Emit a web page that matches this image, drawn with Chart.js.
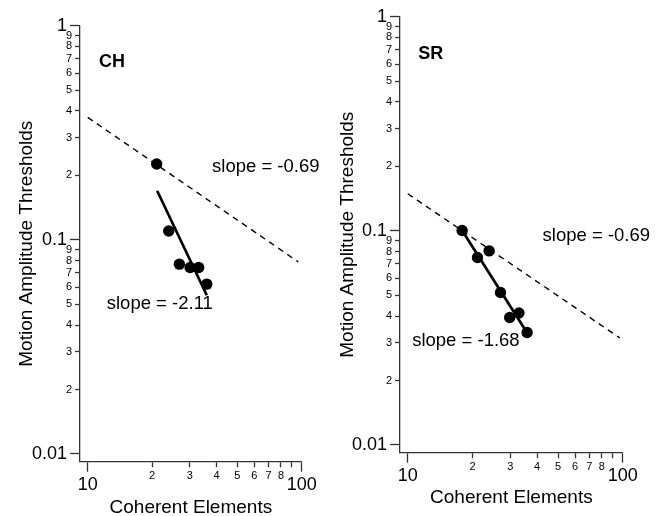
<!DOCTYPE html>
<html>
<head>
<meta charset="utf-8">
<script src="https://cdn.jsdelivr.net/npm/chart.js@4"></script>
<style>
  html, body { margin: 0; padding: 0; background: #fff; }
  #wrap { position: relative; width: 663px; height: 516px; }
  canvas { position: absolute; top: 0; }
  #ch { left: 0; }
  #sr { left: 330px; }
</style>
</head>
<body>
<div id="wrap">
  <canvas id="ch" width="330" height="516"></canvas>
  <canvas id="sr" width="333" height="516"></canvas>
</div>
<script>
  // tick positions and labels (log axes)
  const xTickValues = [10, 20, 30, 40, 50, 60, 70, 80, 90, 100];
  const xTickLabels = ['10', '2', '3', '4', '5', '6', '7', '8', '', '100'];
  const yTickValues = [0.01, 0.02, 0.03, 0.04, 0.05, 0.06, 0.07, 0.08, 0.09,
                       0.1, 0.2, 0.3, 0.4, 0.5, 0.6, 0.7, 0.8, 0.9, 1];
  const yTickLabels = ['0.01', '2', '3', '4', '5', '6', '7', '8', '9',
                       '0.1', '2', '3', '4', '5', '6', '7', '8', '9', '1'];

  // CH observer
  const chCoherent = [21.0, 23.9, 26.8, 30.1, 33.0, 36.0];
  const chThreshold = [0.226, 0.110, 0.077, 0.0743, 0.0743, 0.0621];
  const chFitX = [21.1, 36.0];
  const chFitY = [0.1695, 0.0551];
  const chRefX = [10, 96.4];
  const chRefY = [0.373, 0.0789];

  // SR observer
  const srCoherent = [17.9, 21.1, 23.9, 27.0, 29.8, 32.9, 35.9];
  const srThreshold = [0.1003, 0.0751, 0.0806, 0.0515, 0.0394, 0.0413, 0.0335];
  const srFitX = [17.9, 35.6];
  const srFitY = [0.1003, 0.0339];
  const srRefX = [10, 97];
  const srRefY = [0.149, 0.0316];

  const FONT = '"Liberation Sans", Arial, Helvetica, sans-serif';
  const AXIS = '#333';

  const isMajor = v => Math.abs(Math.log10(v) - Math.round(Math.log10(v))) < 1e-9;
  const toPoints = (xs, ys) => xs.map((x, i) => ({x: x, y: ys[i]}));

  // text notes placed in data coordinates
  const notesPlugin = {
    id: 'notes',
    afterDatasetsDraw(chart, args, opts) {
      const ctx = chart.ctx;
      const xs = chart.scales.x, ys = chart.scales.y;
      ctx.save();
      ctx.fillStyle = '#000';
      ctx.textAlign = 'left';
      ctx.textBaseline = 'middle';
      opts.items.forEach(n => {
        ctx.font = (n.bold ? 'bold ' : '') + n.size + 'px ' + FONT;
        ctx.fillText(n.text, xs.getPixelForValue(n.x), ys.getPixelForValue(n.y));
      });
      ctx.restore();
    }
  };

  function makePanel(id, p) {
    return new Chart(document.getElementById(id), {
      type: 'scatter',
      data: {
        datasets: [
          {
            label: 'thresholds',
            data: toPoints(p.xs, p.ys),
            pointRadius: 5.7,
            pointBackgroundColor: '#000',
            pointBorderWidth: 0,
            showLine: false
          },
          {
            label: 'fit',
            data: toPoints(p.fitX, p.fitY),
            showLine: true,
            borderColor: '#000',
            borderWidth: 2.7,
            pointRadius: 0
          },
          {
            label: 'reference',
            data: toPoints(p.refX, p.refY),
            showLine: true,
            borderColor: '#000',
            borderWidth: 1.4,
            borderDash: [6, 5],
            pointRadius: 0
          }
        ]
      },
      options: {
        responsive: false,
        animation: false,
        events: [],
        layout: { padding: p.pad },
        plugins: {
          legend: { display: false },
          tooltip: { enabled: false },
          notes: { items: p.notes }
        },
        scales: {
          x: {
            type: 'logarithmic',
            min: 9.2,
            max: 100,
            bounds: 'data',
            afterBuildTicks: s => { s.ticks = xTickValues.map(v => ({value: v, major: isMajor(v)})); },
            afterFit: s => { s.height = p.xHeight; },
            border: { display: true, color: AXIS, width: 1.3 },
            grid: {
              drawOnChartArea: false,
              drawTicks: true,
              tickLength: 10,
              tickWidth: 1.3,
              tickColor: AXIS,
              tickBorderDash: c => isMajor(c.tick.value) ? [] : [5, 5],
              tickBorderDashOffset: 0
            },
            ticks: {
              autoSkip: false,
              maxRotation: 0,
              minRotation: 0,
              padding: -2,
              color: '#000',
              font: c => isMajor(c.tick.value)
                ? {family: FONT, size: 18, lineHeight: '10.5px'}
                : {family: FONT, size: 11},
              callback: (v, i) => isMajor(xTickValues[i]) ? ['', xTickLabels[i]] : xTickLabels[i]
            },
            title: {
              display: true,
              text: 'Coherent Elements',
              color: '#000',
              padding: 0,
              font: {family: FONT, size: 19, lineHeight: 0.8}
            }
          },
          y: {
            type: 'logarithmic',
            min: 0.0092,
            max: 1,
            bounds: 'data',
            afterBuildTicks: s => { s.ticks = yTickValues.map(v => ({value: v, major: isMajor(v)})); },
            afterFit: s => { s.width = p.yWidth; },
            border: { display: true, color: AXIS, width: 1.3 },
            grid: {
              drawOnChartArea: false,
              drawTicks: true,
              tickLength: 10,
              tickWidth: 1.3,
              tickColor: AXIS,
              tickBorderDash: c => isMajor(c.tick.value) ? [] : [5, 5],
              tickBorderDashOffset: c => isMajor(c.tick.value) ? 0 : 5
            },
            ticks: {
              autoSkip: false,
              padding: -2,
              color: '#000',
              font: c => isMajor(c.tick.value)
                ? {family: FONT, size: 18}
                : {family: FONT, size: 11},
              callback: (v, i) => isMajor(yTickValues[i]) ? yTickLabels[i] + ' ' : yTickLabels[i]
            },
            title: {
              display: true,
              text: 'Motion Amplitude Thresholds',
              color: '#000',
              padding: 0,
              font: {family: FONT, size: 19, lineHeight: 0.8}
            }
          }
        }
      },
      plugins: [notesPlugin]
    });
  }

  makePanel('ch', {
    xs: chCoherent, ys: chThreshold,
    fitX: chFitX, fitY: chFitY,
    refX: chRefX, refY: chRefY,
    pad: {left: 19.4, top: 25.7, right: 28.3, bottom: 0.2},
    yWidth: 60.6,
    xHeight: 54.1,
    notes: [
      {text: 'CH', x: 11.3, y: 0.673, size: 18, bold: true},
      {text: 'slope = -0.69', x: 38.1, y: 0.219, size: 18.5},
      {text: 'slope = -2.11', x: 12.27, y: 0.0502, size: 18.5}
    ]
  });

  makePanel('sr', {
    xs: srCoherent, ys: srThreshold,
    fitX: srFitX, fitY: srFitY,
    refX: srRefX, refY: srRefY,
    pad: {left: 9.9, top: 16.7, right: 40.3, bottom: 10.2},
    yWidth: 60.1,
    xHeight: 53.1,
    notes: [
      {text: 'SR', x: 11.2, y: 0.668, size: 18, bold: true},
      {text: 'slope = -0.69', x: 42.4, y: 0.0946, size: 18.5},
      {text: 'slope = -1.68', x: 10.48, y: 0.0307, size: 18.5}
    ]
  });
</script>
</body>
</html>
